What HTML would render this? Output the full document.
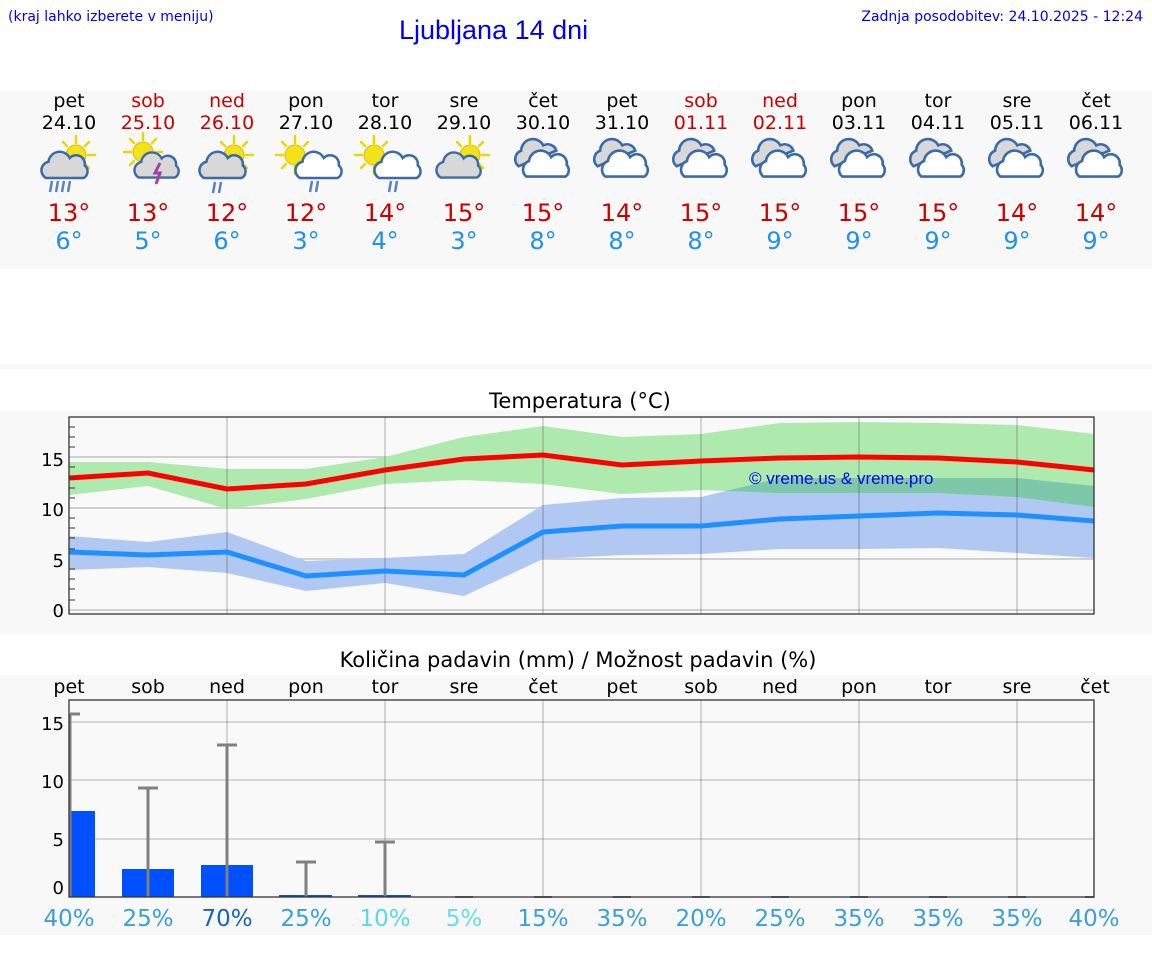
<!DOCTYPE html>
<html><head><meta charset="utf-8"><style>
html,body{margin:0;padding:0;background:#fff;}
svg{display:block;}
text{font-family:"DejaVu Sans","Liberation Sans",sans-serif;}
</style></head><body>
<svg width="1152" height="975" viewBox="0 0 1152 975" xmlns="http://www.w3.org/2000/svg">
<defs>
<g id="sun">
 <g stroke="#e8d800" stroke-width="2.5" stroke-linecap="round">
  <line x1="0" y1="-12" x2="0" y2="-19"/><line x1="0" y1="12" x2="0" y2="19"/>
  <line x1="-12" y1="0" x2="-19" y2="0"/><line x1="12" y1="0" x2="19" y2="0"/>
  <line x1="9" y1="9" x2="13" y2="13"/><line x1="-9" y1="-9" x2="-13" y2="-13"/>
  <line x1="9" y1="-9" x2="13" y2="-13"/><line x1="-9" y1="9" x2="-13" y2="13"/>
 </g>
 <circle r="10" fill="#f2e21a" stroke="#e8b800" stroke-width="1"/>
</g>
<path id="cloudG" d="M-16,8 a7,7 0 0 1 2,-13 a9,9 0 0 1 17,-3 a7,7 0 0 1 12,6 a6,6 0 0 1 -1,10 z" fill="#d8d8d8" stroke="#3a6aa8" stroke-width="2"/>
<path id="cloudW" d="M-16,8 a7,7 0 0 1 2,-13 a9,9 0 0 1 17,-3 a7,7 0 0 1 12,6 a6,6 0 0 1 -1,10 z" fill="#fff" stroke="#3a6aa8" stroke-width="2"/>
<g id="over">
 <path d="M-18,4 a7,7 0 0 1 2,-12 a9,9 0 0 1 17,-4 a7,7 0 0 1 10,4 z" fill="#d8d8d8" stroke="#3a6aa8" stroke-width="2"/>
 <path d="M-12,12 a7,7 0 0 1 2,-12 a9,9 0 0 1 17,-3 a7,7 0 0 1 12,6 a6,6 0 0 1 -1,9 z" fill="#fff" stroke="#3a6aa8" stroke-width="2"/>
</g>
<clipPath id="blueclip"><polygon points="69,536 148,542 227,532 306,561 385,558 464,554 543,505 622,498 701,497 780,478 859,478 938,478 1017,478 1094,486 1094,558 1017,553 938,548 859,549 780,549 701,554 622,555 543,559 464,596 385,583 306,591 227,573 148,567 69,570"/></clipPath>
</defs>

<text x="8" y="21" font-size="14" fill="#0000ee">(kraj lahko izberete v meniju)</text>
<text x="399" y="39" font-size="27" fill="#0000ee" style="font-family:'Liberation Sans'">Ljubljana 14 dni</text>
<text x="1143" y="21" font-size="14" fill="#0000ee" text-anchor="end">Zadnja posodobitev: 24.10.2025 - 12:24</text>

<rect x="0" y="90" width="1152" height="179" fill="#f8f8f8"/>
<rect x="0" y="364" width="1152" height="5" fill="#f8f8f8"/>

<g font-size="19" text-anchor="middle">
<text x="69" y="107">pet</text><text x="148" y="107" fill="#cc0000">sob</text><text x="227" y="107" fill="#cc0000">ned</text><text x="306" y="107">pon</text><text x="385" y="107">tor</text><text x="464" y="107">sre</text><text x="543" y="107">čet</text><text x="622" y="107">pet</text><text x="701" y="107" fill="#cc0000">sob</text><text x="780" y="107" fill="#cc0000">ned</text><text x="859" y="107">pon</text><text x="938" y="107">tor</text><text x="1017" y="107">sre</text><text x="1096" y="107">čet</text>
<text x="69" y="129">24.10</text><text x="148" y="129" fill="#cc0000">25.10</text><text x="227" y="129" fill="#cc0000">26.10</text><text x="306" y="129">27.10</text><text x="385" y="129">28.10</text><text x="464" y="129">29.10</text><text x="543" y="129">30.10</text><text x="622" y="129">31.10</text><text x="701" y="129" fill="#cc0000">01.11</text><text x="780" y="129" fill="#cc0000">02.11</text><text x="859" y="129">03.11</text><text x="938" y="129">04.11</text><text x="1017" y="129">05.11</text><text x="1096" y="129">06.11</text>
</g>
<g font-size="24" text-anchor="middle" fill="#cc0000">
<text x="69" y="221">13°</text><text x="148" y="221">13°</text><text x="227" y="221">12°</text><text x="306" y="221">12°</text><text x="385" y="221">14°</text><text x="464" y="221">15°</text><text x="543" y="221">15°</text><text x="622" y="221">14°</text><text x="701" y="221">15°</text><text x="780" y="221">15°</text><text x="859" y="221">15°</text><text x="938" y="221">15°</text><text x="1017" y="221">14°</text><text x="1096" y="221">14°</text>
</g>
<g font-size="24" text-anchor="middle" fill="#2090f0">
<text x="69" y="249">6°</text><text x="148" y="249">5°</text><text x="227" y="249">6°</text><text x="306" y="249">3°</text><text x="385" y="249">4°</text><text x="464" y="249">3°</text><text x="543" y="249">8°</text><text x="622" y="249">8°</text><text x="701" y="249">8°</text><text x="780" y="249">9°</text><text x="859" y="249">9°</text><text x="938" y="249">9°</text><text x="1017" y="249">9°</text><text x="1096" y="249">9°</text>
</g>

<!-- icons -->
<g stroke="#5a82c0" stroke-width="2.5">
<g transform="translate(76,155)"><use href="#sun"/></g><g transform="translate(66,168) scale(1.25)"><use href="#cloudG"/></g>
<line x1="52" y1="181" x2="50" y2="192"/><line x1="58" y1="181" x2="56" y2="192"/><line x1="64" y1="181" x2="62" y2="192"/><line x1="70" y1="181" x2="68" y2="192"/>
<g transform="translate(143,152)"><use href="#sun"/></g><g transform="translate(158,168) scale(1.2)"><use href="#cloudG"/></g>
<path d="M160,163 l-5,10 h5 l-4,11" stroke="#a040a0" fill="none" stroke-width="3"/>
<g transform="translate(234,155)"><use href="#sun"/></g><g transform="translate(224,168) scale(1.25)"><use href="#cloudG"/></g>
<line x1="215" y1="182" x2="213" y2="193"/><line x1="221" y1="182" x2="219" y2="193"/>
<g transform="translate(295,155)"><use href="#sun"/></g><g transform="translate(320,168) scale(1.25)"><use href="#cloudW"/></g>
<line x1="312" y1="181" x2="310" y2="192"/><line x1="318" y1="181" x2="316" y2="192"/>
<g transform="translate(374,155)"><use href="#sun"/></g><g transform="translate(399,168) scale(1.25)"><use href="#cloudW"/></g>
<line x1="391" y1="181" x2="389" y2="192"/><line x1="397" y1="181" x2="395" y2="192"/>
<g transform="translate(470,155)"><use href="#sun"/></g><g transform="translate(460,168) scale(1.2)"><use href="#cloudG"/></g>
</g>
<g>
<g transform="translate(542,161) scale(1.3)"><use href="#over"/></g>
<g transform="translate(621,161) scale(1.3)"><use href="#over"/></g>
<g transform="translate(700,161) scale(1.3)"><use href="#over"/></g>
<g transform="translate(779,161) scale(1.3)"><use href="#over"/></g>
<g transform="translate(858,161) scale(1.3)"><use href="#over"/></g>
<g transform="translate(937,161) scale(1.3)"><use href="#over"/></g>
<g transform="translate(1016,161) scale(1.3)"><use href="#over"/></g>
<g transform="translate(1095,161) scale(1.3)"><use href="#over"/></g>
</g>

<!-- Temperature chart -->
<rect x="0" y="410" width="1152" height="224" fill="#f8f8f8"/>
<text x="580" y="408" font-size="21" text-anchor="middle">Temperatura (°C)</text>
<rect x="69" y="417" width="1025" height="197" fill="#f9f9f9"/>
<g stroke="#d0d0d0" stroke-width="2">
<line x1="69" y1="457" x2="1094" y2="457"/><line x1="69" y1="508" x2="1094" y2="508"/><line x1="69" y1="559" x2="1094" y2="559"/><line x1="69" y1="610" x2="1094" y2="610"/>
</g>
<polygon fill="#aeeaae" points="69,462 148,462 227,469 306,469 385,457 464,437 543,426 622,437 701,434 780,423 859,422 938,423 1017,425 1094,434 1094,507 1017,497 938,493 859,493 780,493 701,490 622,494 543,484 464,480 385,484 306,499 227,509 148,486 69,495"/>
<polygon fill="#b0c8f2" points="69,536 148,542 227,532 306,561 385,558 464,554 543,505 622,498 701,497 780,478 859,478 938,478 1017,478 1094,486 1094,558 1017,553 938,548 859,549 780,549 701,554 622,555 543,559 464,596 385,583 306,591 227,573 148,567 69,570"/>
<polygon clip-path="url(#blueclip)" fill="#7dc8a8" points="69,462 148,462 227,469 306,469 385,457 464,437 543,426 622,437 701,434 780,423 859,422 938,423 1017,425 1094,434 1094,507 1017,497 938,493 859,493 780,493 701,490 622,494 543,484 464,480 385,484 306,499 227,509 148,486 69,495"/>
<g stroke="rgba(0,0,0,0.15)" stroke-width="2">
<line x1="227" y1="417" x2="227" y2="614"/><line x1="385" y1="417" x2="385" y2="614"/><line x1="543" y1="417" x2="543" y2="614"/><line x1="701" y1="417" x2="701" y2="614"/><line x1="859" y1="417" x2="859" y2="614"/><line x1="1017" y1="417" x2="1017" y2="614"/>
</g>
<polyline fill="none" stroke="#ff0000" stroke-width="5" points="69,478 148,473 227,489 306,484 385,470 464,459 543,455 622,465 701,461 780,458 859,457 938,458 1017,462 1094,470"/>
<polyline fill="none" stroke="#1e90ff" stroke-width="5" points="69,552 148,555 227,552 306,576 385,571 464,575 543,532 622,526 701,526 780,519 859,516 938,513 1017,515 1094,521"/>
<text x="749" y="484" font-size="17" fill="#0000ee" style="font-family:'Liberation Sans'">© vreme.us &amp; vreme.pro</text>
<rect x="69" y="417" width="1025" height="197" fill="none" stroke="#333" stroke-width="1.3"/>
<g stroke="#333" stroke-width="1">
<line x1="69" y1="427" x2="75" y2="427"/><line x1="69" y1="437" x2="75" y2="437"/><line x1="69" y1="447" x2="75" y2="447"/><line x1="69" y1="467" x2="75" y2="467"/><line x1="69" y1="478" x2="75" y2="478"/><line x1="69" y1="488" x2="75" y2="488"/><line x1="69" y1="498" x2="75" y2="498"/><line x1="69" y1="518" x2="75" y2="518"/><line x1="69" y1="528" x2="75" y2="528"/><line x1="69" y1="538" x2="75" y2="538"/><line x1="69" y1="549" x2="75" y2="549"/><line x1="69" y1="569" x2="75" y2="569"/><line x1="69" y1="579" x2="75" y2="579"/><line x1="69" y1="589" x2="75" y2="589"/><line x1="69" y1="600" x2="75" y2="600"/>
</g>
<g font-size="18" text-anchor="end">
<text x="64" y="466">15</text><text x="64" y="516">10</text><text x="64" y="567">5</text><text x="64" y="617">0</text>
</g>

<!-- Precip chart -->
<text x="578" y="667" font-size="21" text-anchor="middle">Količina padavin (mm) / Možnost padavin (%)</text>
<rect x="0" y="675" width="1152" height="260" fill="#f8f8f8"/>
<g font-size="19" text-anchor="middle">
<text x="69" y="693">pet</text><text x="148" y="693">sob</text><text x="227" y="693">ned</text><text x="306" y="693">pon</text><text x="385" y="693">tor</text><text x="464" y="693">sre</text><text x="543" y="693">čet</text><text x="622" y="693">pet</text><text x="701" y="693">sob</text><text x="780" y="693">ned</text><text x="859" y="693">pon</text><text x="938" y="693">tor</text><text x="1017" y="693">sre</text><text x="1095" y="693">čet</text>
</g>
<rect x="69" y="700" width="1025" height="197" fill="#f9f9f9"/>
<g stroke="#d6d6d6" stroke-width="2">
<line x1="69" y1="722" x2="1094" y2="722"/><line x1="69" y1="780" x2="1094" y2="780"/><line x1="69" y1="839" x2="1094" y2="839"/>
</g>
<g stroke="rgba(0,0,0,0.15)" stroke-width="2">
<line x1="227" y1="700" x2="227" y2="897"/><line x1="385" y1="700" x2="385" y2="897"/><line x1="543" y1="700" x2="543" y2="897"/><line x1="701" y1="700" x2="701" y2="897"/><line x1="859" y1="700" x2="859" y2="897"/><line x1="1017" y1="700" x2="1017" y2="897"/>
</g>
<g fill="#0050ff">
<rect x="70" y="811" width="25" height="86"/><rect x="122" y="869" width="52" height="28"/><rect x="201" y="865" width="52" height="32"/><rect x="279" y="895" width="53" height="2"/><rect x="358" y="895" width="53" height="2"/>
</g>
<g stroke="#808080" stroke-width="3">
<line x1="70" y1="714" x2="70" y2="897"/><line x1="70" y1="714" x2="80" y2="714"/>
<line x1="148" y1="788" x2="148" y2="897"/><line x1="138" y1="788" x2="158" y2="788"/>
<line x1="227" y1="745" x2="227" y2="897"/><line x1="217" y1="745" x2="237" y2="745"/>
<line x1="306" y1="862" x2="306" y2="897"/><line x1="296" y1="862" x2="316" y2="862"/>
<line x1="385" y1="842" x2="385" y2="897"/><line x1="375" y1="842" x2="395" y2="842"/>
</g>
<g stroke="#808080" stroke-width="2">
<line x1="455" y1="897" x2="473" y2="897"/><line x1="534" y1="897" x2="552" y2="897"/><line x1="613" y1="897" x2="631" y2="897"/><line x1="692" y1="897" x2="710" y2="897"/><line x1="771" y1="897" x2="789" y2="897"/><line x1="850" y1="897" x2="868" y2="897"/><line x1="929" y1="897" x2="947" y2="897"/><line x1="1008" y1="897" x2="1026" y2="897"/><line x1="1085" y1="897" x2="1094" y2="897"/>
</g>
<rect x="69" y="700" width="1025" height="197" fill="none" stroke="#333" stroke-width="1.3"/>
<g font-size="18" text-anchor="end">
<text x="64" y="730">15</text><text x="64" y="788">10</text><text x="64" y="846">5</text><text x="64" y="894">0</text>
</g>
<g font-size="23" text-anchor="middle">
<text x="69" y="926" fill="#3aa0d8">40%</text><text x="148" y="926" fill="#3aa0d8">25%</text><text x="227" y="926" fill="#1a64b8">70%</text><text x="306" y="926" fill="#3aa0d8">25%</text><text x="385" y="926" fill="#5ad8e8">10%</text><text x="464" y="926" fill="#66dde8">5%</text><text x="543" y="926" fill="#3aa0d8">15%</text><text x="622" y="926" fill="#3aa0d8">35%</text><text x="701" y="926" fill="#3aa0d8">20%</text><text x="780" y="926" fill="#3aa0d8">25%</text><text x="859" y="926" fill="#3aa0d8">35%</text><text x="938" y="926" fill="#3aa0d8">35%</text><text x="1017" y="926" fill="#3aa0d8">35%</text><text x="1094" y="926" fill="#3aa0d8">40%</text>
</g>
</svg>
</body></html>
